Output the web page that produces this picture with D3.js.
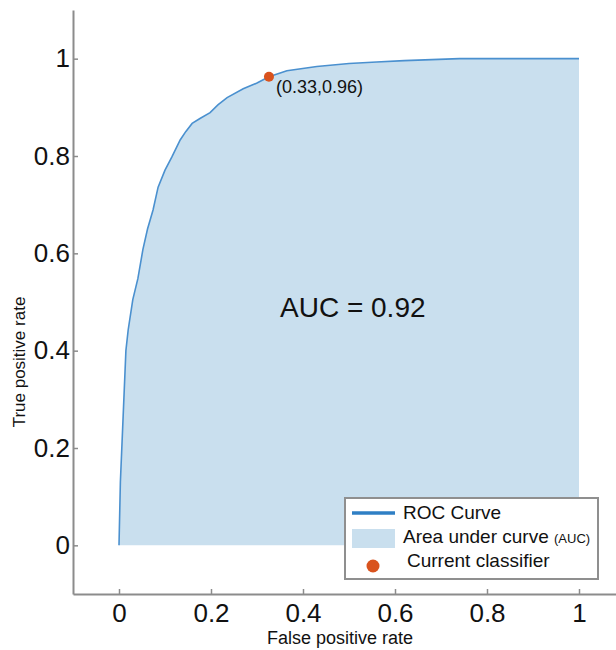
<!DOCTYPE html>
<html>
<head>
<meta charset="utf-8">
<script src="https://cdn.jsdelivr.net/npm/d3@7"></script>
<style>
html,body{margin:0;padding:0;background:#fff;}
svg{display:block;font-family:"Liberation Sans",Arial,sans-serif;}
</style>
</head>
<body>
<svg id="chart" width="616" height="650"></svg>
<script>
// ---- data ----
const fpr = [0, 0.003, 0.009, 0.015, 0.02, 0.03, 0.041, 0.052, 0.062, 0.074, 0.085, 0.1, 0.115, 0.133, 0.145, 0.159, 0.176, 0.198, 0.215, 0.235, 0.27, 0.30, 0.326, 0.365, 0.43, 0.50, 0.56, 0.62, 0.68, 0.74, 1.0];
const tpr = [0, 0.13, 0.265, 0.40, 0.443, 0.505, 0.548, 0.608, 0.65, 0.689, 0.736, 0.771, 0.798, 0.833, 0.85, 0.867, 0.877, 0.889, 0.905, 0.92, 0.938, 0.95, 0.963, 0.975, 0.984, 0.99, 0.993, 0.996, 0.998, 1.0, 1.0];
const classifier = [0.326, 0.963];
const classifierLabel = "(0.33,0.96)";
const aucLabel = "AUC = 0.92";
const xTicks = [0, 0.2, 0.4, 0.6, 0.8, 1];
const yTicks = [0, 0.2, 0.4, 0.6, 0.8, 1];
const tickLabels = ["0", "0.2", "0.4", "0.6", "0.8", "1"];
const legendItems = ["ROC Curve", "Area under curve", "Current classifier"];

// ---- chart ----
const svg = d3.select("#chart");
const x = d3.scaleLinear().domain([-0.1, 1.1]).range([73, 625]);
const y = d3.scaleLinear().domain([-0.1, 1.1]).range([594, 10]);

const pts = fpr.map((f, i) => [f, tpr[i]]);
const fillCol = "#c9dfee", lineCol = "#4a90cf", dotCol = "#d9531e", axisCol = "#8c8c8c";

svg.append("path").datum(pts)
  .attr("d", d3.area().x(d => x(d[0])).y0(y(0)).y1(d => y(d[1])))
  .attr("fill", fillCol);
svg.append("path").datum(pts)
  .attr("d", d3.line().x(d => x(d[0])).y(d => y(d[1])))
  .attr("fill", "none").attr("stroke", lineCol).attr("stroke-width", 1.6);

// axes
const xAxis = d3.axisBottom(x).tickValues(xTicks).tickSizeInner(-5).tickSizeOuter(0).tickPadding(24)
  .tickFormat((d, i) => tickLabels[i]);
const yAxis = d3.axisLeft(y).tickValues(yTicks).tickSizeInner(-5).tickSizeOuter(0).tickPadding(8)
  .tickFormat((d, i) => tickLabels[i]);

const gx = svg.append("g").attr("transform", `translate(0,${y(-0.1)})`).call(xAxis);
const gy = svg.append("g").attr("transform", `translate(${x(-0.1)},0)`).call(yAxis);
[gx, gy].forEach(g => {
  g.select(".domain").attr("stroke", axisCol).attr("stroke-width", 2);
  g.selectAll(".tick line").attr("stroke", axisCol).attr("stroke-width", 1.5);
  g.selectAll(".tick text").attr("fill", "#111").attr("font-size", 26)
    .attr("font-family", "Liberation Sans, Arial, sans-serif");
});
gx.selectAll(".tick text").attr("dy", "0.35em").attr("y", 19);
gy.selectAll(".tick text").attr("x", -3);

// axis titles
svg.append("text").attr("x", 340).attr("y", 644).attr("text-anchor", "middle")
  .attr("font-size", 18).attr("fill", "#111").text("False positive rate");
svg.append("text").attr("transform", "translate(25,362) rotate(-90)").attr("text-anchor", "middle")
  .attr("font-size", 17).attr("fill", "#111").text("True positive rate");

// AUC text
svg.append("text").attr("x", x(0.35)).attr("y", 317)
  .attr("font-size", 28).attr("fill", "#111").text(aucLabel);

// classifier
svg.append("circle").attr("cx", x(classifier[0])).attr("cy", y(classifier[1])).attr("r", 5).attr("fill", dotCol);
svg.append("text").attr("x", x(classifier[0]) + 7).attr("y", y(classifier[1]) + 16)
  .attr("font-size", 18).attr("fill", "#111").text(classifierLabel);

// legend
const lg = svg.append("g");
lg.append("rect").attr("x", 345).attr("y", 498).attr("width", 253).attr("height", 81)
  .attr("fill", "#fff").attr("stroke", "#8f8f8f").attr("stroke-width", 2);
lg.append("line").attr("x1", 352).attr("x2", 395).attr("y1", 513).attr("y2", 513)
  .attr("stroke", "#2f7fc4").attr("stroke-width", 3.5);
lg.append("rect").attr("x", 352).attr("y", 529).attr("width", 43).attr("height", 19).attr("fill", fillCol);
lg.append("circle").attr("cx", 373).attr("cy", 566).attr("r", 6.5).attr("fill", dotCol);
lg.append("text").attr("x", 403).attr("y", 519).attr("font-size", 19).attr("fill", "#111").text(legendItems[0]);
const t2 = lg.append("text").attr("x", 403).attr("y", 543).attr("font-size", 19).attr("fill", "#111");
t2.append("tspan").text(legendItems[1] + " ");
t2.append("tspan").attr("font-size", 13).text("(AUC)");
lg.append("text").attr("x", 407).attr("y", 567).attr("font-size", 19).attr("fill", "#111").text(legendItems[2]);
</script>
</body>
</html>
